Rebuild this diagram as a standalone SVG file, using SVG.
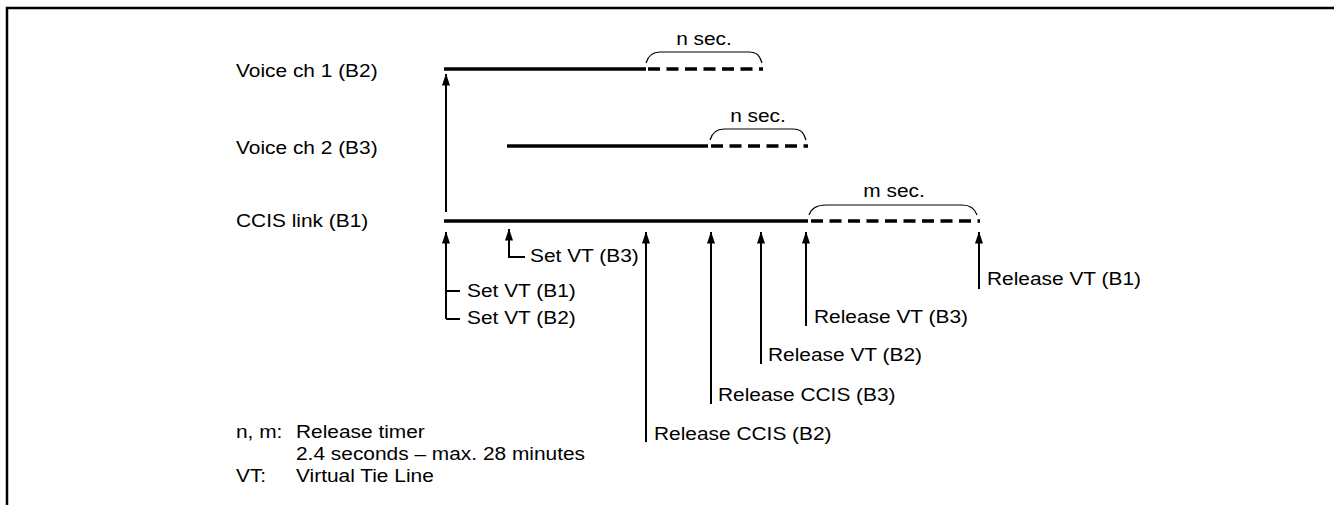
<svg xmlns="http://www.w3.org/2000/svg" width="1334" height="505" viewBox="0 0 1334 505">
<style>
text{font-family:"Liberation Sans",Arial,sans-serif;font-size:18.5px;fill:#000}
.tl{stroke:#000;stroke-width:3.5;fill:none}
.dash{stroke:#000;stroke-width:3.5;fill:none;stroke-dasharray:12 6.5}
.arr{stroke:#000;stroke-width:2;fill:none}
.brace{stroke:#000;stroke-width:1.2;fill:none}
</style>
<defs>
<marker id="ah" markerWidth="12" markerHeight="8" refX="11.5" refY="4" orient="auto" markerUnits="userSpaceOnUse" viewBox="0 0 12 8">
<path d="M0,0 L12,4 L0,8 Z" fill="#000"/>
</marker>
</defs>
<rect width="1334" height="505" fill="#fff"/>
<path d="M7,505 L7,8 L1334,8" stroke="#000" stroke-width="2.5" fill="none"/>

<g id="row-voice1">
<text transform="translate(236 77) scale(1.13 1)">Voice ch 1 (B2)</text>
<line class="tl" x1="444" y1="69" x2="646" y2="69"/>
<line class="dash" x1="648" y1="69" x2="763" y2="69"/>
<path class="brace" d="M646,63 C648,56 652,52 660,52 L749,52 C757,52 760,56 762,63"/>
<text transform="translate(704 45) scale(1.13 1)" text-anchor="middle">n sec.</text>
</g>

<g id="row-voice2">
<text transform="translate(236 154) scale(1.13 1)">Voice ch 2 (B3)</text>
<line class="tl" x1="507" y1="146" x2="708" y2="146"/>
<line class="dash" x1="711" y1="146" x2="808" y2="146"/>
<path class="brace" d="M710,140 C712,133 716,129 724,129 L793,129 C801,129 804,133 806,140"/>
<text transform="translate(758 122) scale(1.13 1)" text-anchor="middle">n sec.</text>
</g>

<g id="row-ccis">
<text transform="translate(236 227) scale(1.13 1)">CCIS link (B1)</text>
<line class="tl" x1="444" y1="221" x2="808" y2="221"/>
<line class="dash" x1="811" y1="221" x2="980" y2="221"/>
<path class="brace" d="M809,215 C811,209 816,205 826,205 L962,205 C971,205 975,209 977,215"/>
<text transform="translate(894 197) scale(1.13 1)" text-anchor="middle">m sec.</text>
</g>

<g id="connectors">
<line class="arr" x1="446" y1="212" x2="446" y2="74" marker-end="url(#ah)"/>
<path class="arr" d="M446,319 L446,232" marker-end="url(#ah)"/>
<path class="arr" d="M446,291 L460,291 M446,319 L460,319"/>
<path class="arr" d="M525,257 L509,257 L509,229" marker-end="url(#ah)"/>
<line class="arr" x1="646" y1="442" x2="646" y2="232" marker-end="url(#ah)"/>
<line class="arr" x1="711" y1="404" x2="711" y2="232" marker-end="url(#ah)"/>
<line class="arr" x1="761" y1="364" x2="761" y2="232" marker-end="url(#ah)"/>
<line class="arr" x1="806" y1="326" x2="806" y2="232" marker-end="url(#ah)"/>
<line class="arr" x1="979" y1="289" x2="979" y2="232" marker-end="url(#ah)"/>
</g>

<g id="labels">
<text transform="translate(530 262) scale(1.13 1)">Set VT (B3)</text>
<text transform="translate(467 297) scale(1.13 1)">Set VT (B1)</text>
<text transform="translate(467 324) scale(1.13 1)">Set VT (B2)</text>
<text transform="translate(654 440) scale(1.13 1)">Release CCIS (B2)</text>
<text transform="translate(718 401) scale(1.13 1)">Release CCIS (B3)</text>
<text transform="translate(768 361) scale(1.13 1)">Release VT (B2)</text>
<text transform="translate(814 323) scale(1.13 1)">Release VT (B3)</text>
<text transform="translate(987 285) scale(1.13 1)">Release VT (B1)</text>
</g>

<g id="legend">
<text transform="translate(236 438) scale(1.13 1)">n, m:</text>
<text transform="translate(296 438) scale(1.13 1)">Release timer</text>
<text transform="translate(296 460) scale(1.13 1)">2.4 seconds – max. 28 minutes</text>
<text transform="translate(236 482) scale(1.13 1)">VT:</text>
<text transform="translate(296 482) scale(1.13 1)">Virtual Tie Line</text>
</g>
</svg>
